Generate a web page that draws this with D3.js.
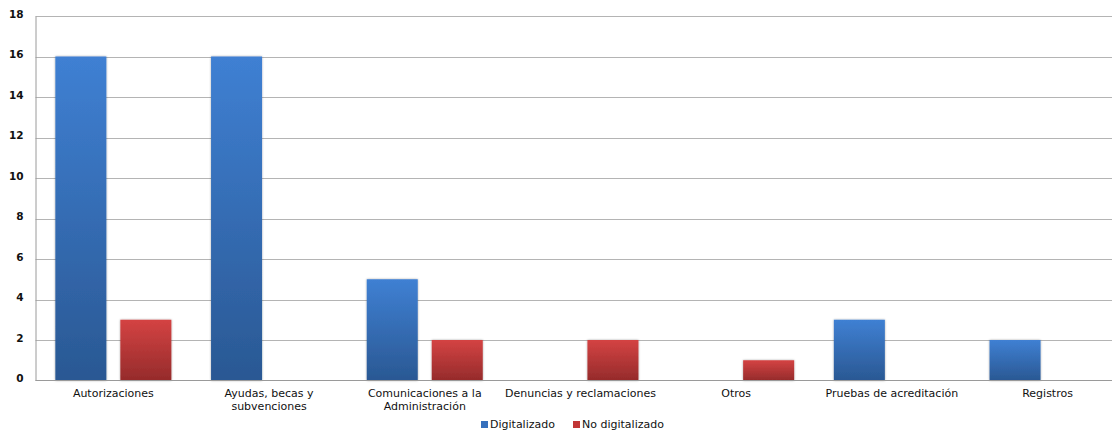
<!DOCTYPE html>
<html><head><meta charset="utf-8">
<script src="https://cdn.jsdelivr.net/npm/d3@7"></script>
<style>body{margin:0;background:#fff;} svg{display:block;}</style>
</head><body>
<svg id="c" width="1112" height="430"></svg>
<script>
const categories = [["Autorizaciones"],["Ayudas, becas y","subvenciones"],["Comunicaciones a la","Administración"],["Denuncias y reclamaciones"],["Otros"],["Pruebas de acreditación"],["Registros"]];
const seriesNames = ["Digitalizado","No digitalizado"];
const digitalizado = [16,16,5,0,0,3,2];
const noDigitalizado = [3,0,2,2,1,0,0];
const yTicks = [0,2,4,6,8,10,12,14,16,18];

const svg = d3.select("#c");
const m = {l:35.5, r:35.5 + 7*155.7, t:16, b:380.5};
const x = d3.scaleBand().domain(d3.range(categories.length)).range([m.l, m.r]);
const y = d3.scaleLinear().domain([0,18]).range([m.b, m.t]);
const sub = d3.scaleBand().domain([0,1]).range([-58, 58]).paddingInner(14/65);

const defs = svg.append("defs");
const gradDefs = [["gBlue","#3f80d3","#2a5893"],["gRed","#d44343","#952b2b"]];
gradDefs.forEach(([id,a,b])=>{
  const g = defs.append("linearGradient").attr("id",id).attr("x1",0).attr("y1",0).attr("x2",0).attr("y2",1);
  g.append("stop").attr("offset","0%").attr("stop-color",a);
  g.append("stop").attr("offset","100%").attr("stop-color",b);
});
const f = defs.append("filter").attr("id","sh").attr("x","-20%").attr("y","-20%").attr("width","140%").attr("height","140%");
f.append("feGaussianBlur").attr("in","SourceAlpha").attr("stdDeviation",1.2).attr("result","b");
f.append("feOffset").attr("in","b").attr("dx",0).attr("dy",0).attr("result","o");
f.append("feComponentTransfer").attr("in","o").attr("result","t").append("feFuncA").attr("type","linear").attr("slope",0.35);
const fm = f.append("feMerge"); fm.append("feMergeNode").attr("in","t"); fm.append("feMergeNode").attr("in","SourceGraphic");

// gridlines
svg.append("g").selectAll("line").data(yTicks.filter(d=>d>0)).join("line")
  .attr("x1",m.l).attr("x2",1112).attr("y1",d=>Math.round(y(d))+0.5).attr("y2",d=>Math.round(y(d))+0.5)
  .attr("stroke","#b4b4b4").attr("stroke-width",1.2);

// y axis
const ya = svg.append("g").attr("transform",`translate(${m.l},0)`).call(d3.axisLeft(y).tickValues(yTicks).tickSize(0).tickPadding(12));
ya.select(".domain").attr("stroke","#9a9a9a");
ya.selectAll("text").attr("font-family","DejaVu Sans").attr("font-size",10.5).attr("fill","#111").attr("font-weight","bold").attr("dy","0.1em");

// bars
const series = [digitalizado, noDigitalizado];
const fills = ["url(#gBlue)","url(#gRed)"];
series.forEach((vals,si)=>{
  svg.append("g").selectAll("rect").data(vals.map((v,i)=>({v,i}))).join("rect")
    .filter(d=>d.v>0)
    .attr("x",d=>x(d.i)+x.bandwidth()/2+sub(si))
    .attr("width",sub.bandwidth())
    .attr("y",d=>y(d.v)).attr("height",d=>y(0)-y(d.v))
    .attr("fill",fills[si]).attr("filter","url(#sh)");
});

// x axis line
svg.append("line").attr("x1",m.l).attr("x2",1112).attr("y1",m.b).attr("y2",m.b).attr("stroke","#9a9a9a").attr("stroke-width",1.2);

// category labels
const xa = svg.append("g");
categories.forEach((lines,i)=>{
  const t = xa.append("text").attr("x",x(i)+x.bandwidth()/2).attr("y",397)
    .attr("text-anchor","middle").attr("font-family","DejaVu Sans").attr("font-size",11).attr("fill","#111");
  lines.forEach((ln,j)=>t.append("tspan").attr("x",x(i)+x.bandwidth()/2).attr("dy",j===0?0:13).text(ln));
});

// legend
const leg = svg.append("g");
const legX = [481, 573];
const legColors = ["#3670bd","#c13636"];
seriesNames.forEach((n,i)=>{
  leg.append("rect").attr("x",legX[i]).attr("y",421).attr("width",7).attr("height",7).attr("fill",legColors[i]);
  leg.append("text").attr("x",legX[i]+9).attr("y",428).attr("font-family","DejaVu Sans").attr("font-size",11).attr("fill","#111").text(n);
});
</script>
</body></html>
